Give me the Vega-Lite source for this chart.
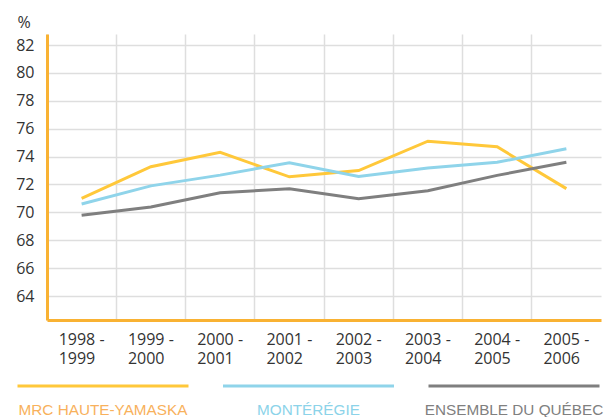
{
  "$schema": "https://vega.github.io/schema/vega-lite/v6.json",
  "width": 554,
  "height": 286,
  "autosize": "none",
  "padding": {"left": 47, "top": 34, "right": 7, "bottom": 97},
  "background": "white",
  "data": {"values": [
    {"period": "1998 - 1999", "series": "MRC HAUTE-YAMASKA", "value": 71.0},
    {"period": "1999 - 2000", "series": "MRC HAUTE-YAMASKA", "value": 73.27},
    {"period": "2000 - 2001", "series": "MRC HAUTE-YAMASKA", "value": 74.3},
    {"period": "2001 - 2002", "series": "MRC HAUTE-YAMASKA", "value": 72.55},
    {"period": "2002 - 2003", "series": "MRC HAUTE-YAMASKA", "value": 73.0},
    {"period": "2003 - 2004", "series": "MRC HAUTE-YAMASKA", "value": 75.1},
    {"period": "2004 - 2005", "series": "MRC HAUTE-YAMASKA", "value": 74.7},
    {"period": "2005 - 2006", "series": "MRC HAUTE-YAMASKA", "value": 71.7},
    {"period": "1998 - 1999", "series": "MONTÉRÉGIE", "value": 70.6},
    {"period": "1999 - 2000", "series": "MONTÉRÉGIE", "value": 71.9},
    {"period": "2000 - 2001", "series": "MONTÉRÉGIE", "value": 72.67},
    {"period": "2001 - 2002", "series": "MONTÉRÉGIE", "value": 73.56},
    {"period": "2002 - 2003", "series": "MONTÉRÉGIE", "value": 72.58},
    {"period": "2003 - 2004", "series": "MONTÉRÉGIE", "value": 73.18},
    {"period": "2004 - 2005", "series": "MONTÉRÉGIE", "value": 73.59},
    {"period": "2005 - 2006", "series": "MONTÉRÉGIE", "value": 74.56},
    {"period": "1998 - 1999", "series": "ENSEMBLE DU QUÉBEC", "value": 69.8},
    {"period": "1999 - 2000", "series": "ENSEMBLE DU QUÉBEC", "value": 70.38},
    {"period": "2000 - 2001", "series": "ENSEMBLE DU QUÉBEC", "value": 71.4},
    {"period": "2001 - 2002", "series": "ENSEMBLE DU QUÉBEC", "value": 71.69},
    {"period": "2002 - 2003", "series": "ENSEMBLE DU QUÉBEC", "value": 70.98},
    {"period": "2003 - 2004", "series": "ENSEMBLE DU QUÉBEC", "value": 71.55},
    {"period": "2004 - 2005", "series": "ENSEMBLE DU QUÉBEC", "value": 72.65},
    {"period": "2005 - 2006", "series": "ENSEMBLE DU QUÉBEC", "value": 73.59}
  ]},
  "mark": {"type": "line", "strokeWidth": 3},
  "encoding": {
    "x": {
      "field": "period", "type": "ordinal", "sort": null,
      "scale": {"type": "band", "paddingInner": 0, "paddingOuter": 0},
      "axis": {
        "title": null,
        "domainColor": "#F9B233", "domainWidth": 3,
        "ticks": false, "tickSize": 0,
        "grid": true, "gridColor": "#dedede", "gridWidth": 1.5,
        "bandPosition": 0,
        "labelAlign": "left", "labelOffset": -23, "labelBaseline": "top", "labelPadding": 11,
        "labelFont": "Open Sans", "labelFontSize": 16, "labelColor": "#333333", "labelLineHeight": 19,
        "labelExpr": "[slice(datum.label, 0, 6), slice(datum.label, 7)]",
        "labelOverlap": false, "labelBound": false, "labelFlush": false, "labelAngle": 0
      }
    },
    "y": {
      "field": "value", "type": "quantitative",
      "scale": {"domain": [62.28, 82.79], "nice": false, "zero": false},
      "axis": {
        "title": "%", "titleAngle": 0, "titleAlign": "left", "titleBaseline": "alphabetic",
        "titleX": -30, "titleY": -7, "titleFont": "Open Sans", "titleFontSize": 16,
        "titleFontWeight": "normal", "titleColor": "#333333",
        "values": [64, 66, 68, 70, 72, 74, 76, 78, 80, 82],
        "domainColor": "#F9B233", "domainWidth": 3,
        "ticks": false, "tickSize": 0, "labelPadding": 13,
        "labelFont": "Open Sans", "labelFontSize": 16, "labelColor": "#333333",
        "grid": true, "gridColor": "#dedede", "gridWidth": 1.5
      }
    },
    "color": {
      "field": "series", "type": "nominal",
      "scale": {
        "domain": ["MRC HAUTE-YAMASKA", "MONTÉRÉGIE", "ENSEMBLE DU QUÉBEC"],
        "range": ["#FFC83A", "#8FD4EA", "#7F7F7F"]
      },
      "legend": {
        "title": null, "orient": "none", "legendX": -31, "legendY": 264.7,
        "direction": "horizontal", "columns": 3,
        "symbolType": "stroke", "symbolSize": 29241, "symbolStrokeWidth": 3,
        "columnPadding": 21.5, "padding": 0,
        "labelFont": "Liberation Sans", "labelFontSize": 15.3,
        "labelAlign": "center", "labelOffset": -87, "labelLimit": 300, "labelBaseline": "alphabetic",
        "encode": {
          "labels": {
            "update": {
              "dy": {"value": 29},
              "fill": {"signal": "datum.value === 'MRC HAUTE-YAMASKA' ? '#F8B15C' : datum.value === 'MONTÉRÉGIE' ? '#8CD3E9' : '#808080'"}
            }
          }
        }
      }
    }
  },
  "config": {"view": {"stroke": null}}
}
